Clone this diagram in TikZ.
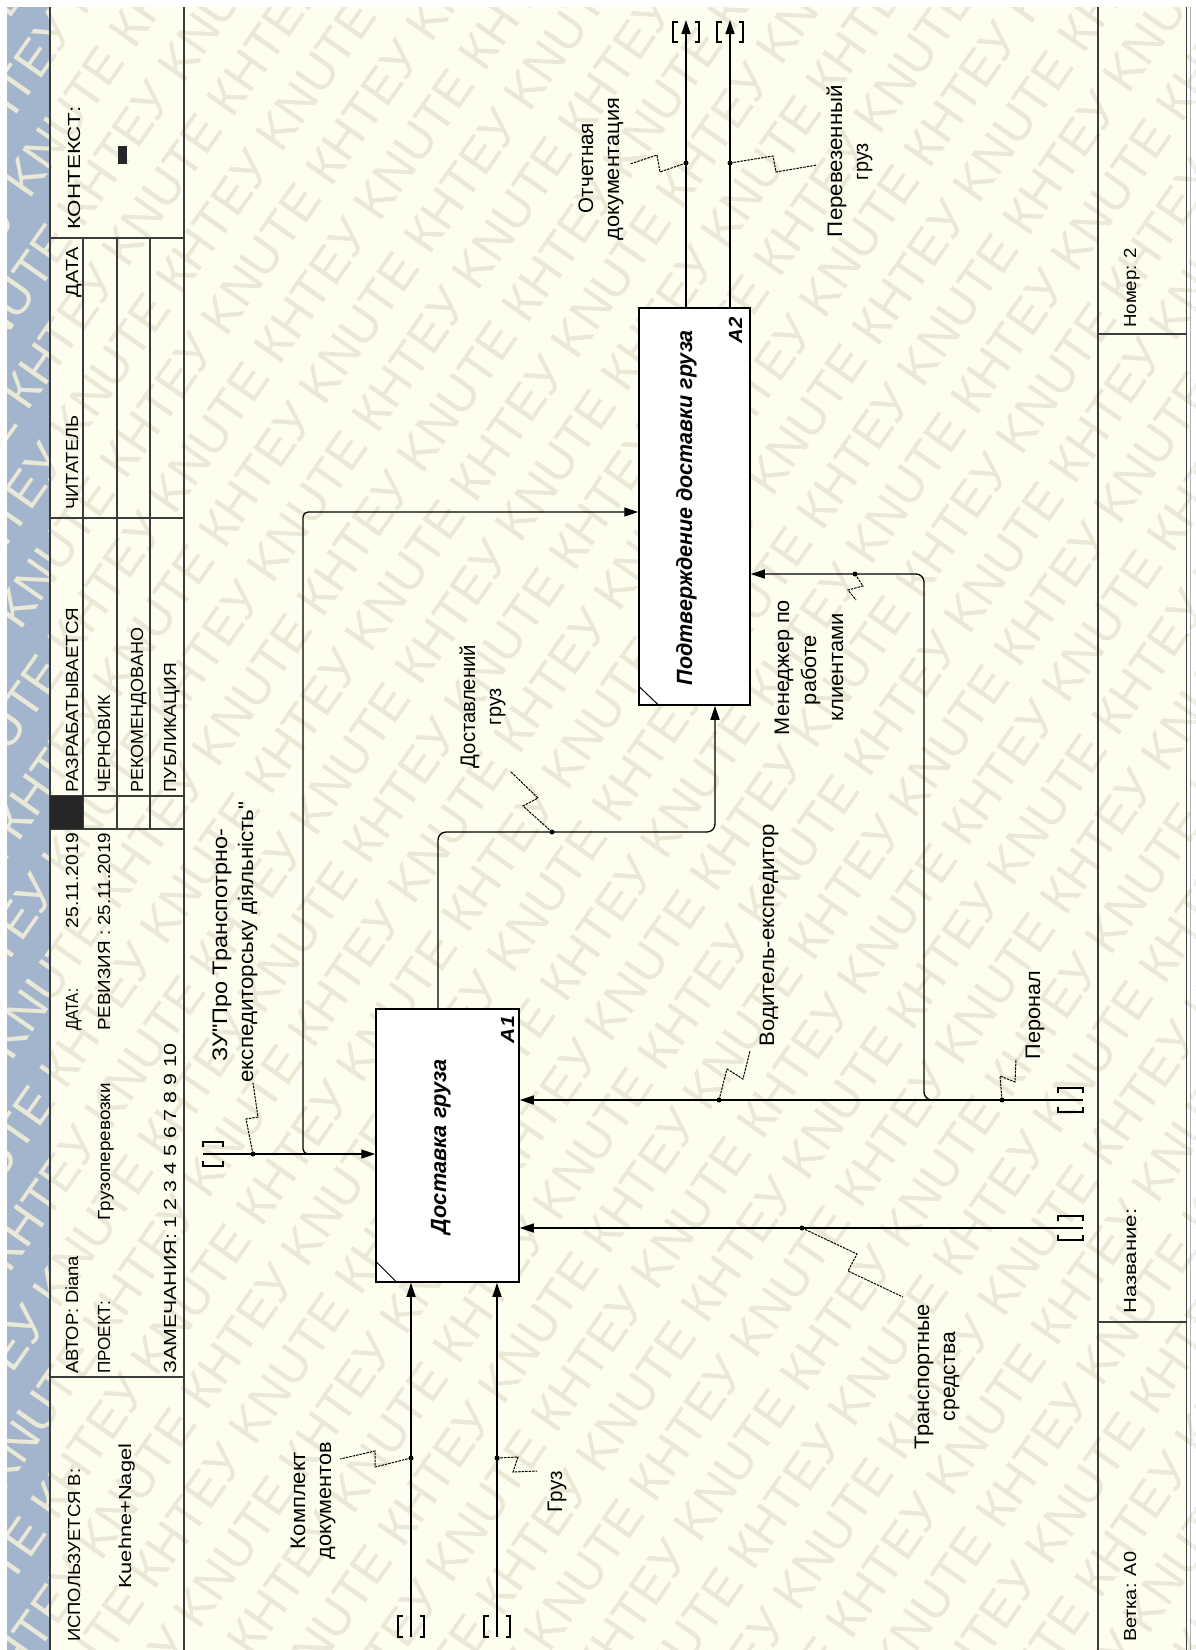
\documentclass[tikz,border=0pt]{standalone}
\usepackage{fontspec}
\setmainfont{Liberation Sans}[Ligatures=TeXOff]
\usetikzlibrary{arrows.meta}
\definecolor{cream}{RGB}{254,254,238}
\definecolor{strip}{RGB}{163,181,204}
\definecolor{frame}{RGB}{60,60,60}
\definecolor{wmc}{RGB}{234,232,214}
\newcommand\fw[2]{\resizebox{#1pt}{\height}{#2}}
\newcommand\vtun[3]{%
  \draw[tun] (#1-8.5,#2) -- (#1-13,#2) -- (#1-13,#3) -- (#1-8.5,#3);
  \draw[tun] (#1+8.5,#2) -- (#1+13,#2) -- (#1+13,#3) -- (#1+8.5,#3);}
\newcommand\htun[3]{%
  \draw[tun] (#2,#1-7) -- (#2,#1-12) -- (#3,#1-12) -- (#3,#1-7);
  \draw[tun] (#2,#1+7) -- (#2,#1+12) -- (#3,#1+12) -- (#3,#1+7);}
\newcommand\wmrow{KNUTE КНТЕУ KNUTE КНТЕУ KNUTE КНТЕУ KNUTE КНТЕУ KNUTE КНТЕУ KNUTE КНТЕУ KNUTE КНТЕУ}
\begin{document}
\begin{tikzpicture}[x=1pt,y=-1pt,
  tbl/.style={line width=1.2pt, draw=frame},
  arr/.style={line width=1.3pt, -{Triangle[length=14pt,width=9pt]}},
  tun/.style={line width=1.2pt},
  sq/.style={line width=1pt, dash pattern=on 2.5pt off 1pt},
  dotn/.style={circle, fill=black, inner sep=0pt, minimum size=5pt},
  tb/.style={font=\fontsize{17.5}{20}\selectfont, rotate=90, inner sep=0pt, anchor=base west},
  lb/.style={font=\fontsize{21}{25}\selectfont, rotate=90, inner sep=0pt, anchor=base},
  ttl/.style={font=\fontsize{22}{26}\selectfont\bfseries\itshape, rotate=90, inner sep=0pt, anchor=base},
  aid/.style={font=\fontsize{19}{22}\selectfont\bfseries\itshape, rotate=90, inner sep=0pt, anchor=base},
  box/.style={draw=black, line width=1.5pt, fill=white, inner sep=0pt},
  wm/.style={font=\fontsize{50}{52}\selectfont, text=wmc, rotate=55, inner sep=0pt},
]
\useasboundingbox (0,0) rectangle (1195,1650);
% background
\fill[white] (0,0) rectangle (1195,1650);
\fill[cream] (7,7) rectangle (1186,1650);
\fill[strip] (7,7) rectangle (50,1650);
% watermark
\begin{scope}
\clip (7,7) rectangle (1195,1650);
\begin{scope}[shift={(597,825)}, rotate=55]
\foreach \r in {-19,...,19} {
  \pgfmathsetmacro\off{mod(abs(\r),2)*182}
  \node[wm] (wm\r) at (\off, \r*60) {\wmrow};
}
\end{scope}
\end{scope}
\fill[white, opacity=0.55] (1192,7) rectangle (1195,1650);
\draw[line width=1pt, draw=frame] (1186,7) -- (1186,1650);
\draw[line width=1pt, draw=black!30] (1190,7) -- (1190,1650);

% ---------- title block (left strip) ----------
\draw[tbl] (50,7) -- (50,1650);
\draw[tbl] (184,7) -- (184,1650);
\draw[tbl] (50,238) -- (184,238);
\draw[tbl] (50,518) -- (184,518);
\draw[tbl] (50,796) -- (184,796);
\draw[tbl] (50,829) -- (184,829);
\draw[tbl] (50,1377) -- (184,1377);
\foreach \c in {83,117,150} \draw[tbl] (\c,238) -- (\c,829);
\fill[black!85] (50,796) rectangle (83,829);

\node[tb] (tKon) at (80,230) {\fw{123}{КОНТЕКСТ:}};
\fill[black!85] (118,146) rectangle (127,164);
\node[tb, anchor=base east] (tDh) at (78,247) {\fw{50}{ДАТА}};
\node[tb] (tRead) at (78,510) {\fw{94}{ЧИТАТЕЛЬ}};
\node[tb] (tS1) at (78,793) {\fw{185}{РАЗРАБАТЫВАЕТСЯ}};
\node[tb] (tS2) at (110,793) {\fw{98}{ЧЕРНОВИК}};
\node[tb] (tS3) at (143,793) {\fw{165}{РЕКОМЕНДОВАНО}};
\node[tb] (tS4) at (176,793) {\fw{130}{ПУБЛИКАЦИЯ}};
\node[tb] (tD1) at (78,1031) {\fw{42}{ДАТА:}};
\node[tb, anchor=base east] (tD2) at (78,833) {\fw{95}{25.11.2019}};
\node[tb] (tRev) at (110,1031) {\fw{198}{РЕВИЗИЯ : 25.11.2019}};
\node[tb] (tAut) at (78,1374) {\fw{118}{АВТОР: Diana}};
\node[tb] (tPr) at (110,1374) {\fw{73}{ПРОЕКТ:}};
\node[tb, anchor=base east] (tPr2) at (110,1083) {\fw{137}{Грузоперевозки}};
\node[tb] (tNote) at (176,1374) {\fw{330}{ЗАМЕЧАНИЯ: 1 2 3 4 5 6 7 8 9 10}};
\node[tb] (tUsed) at (80,1642) {\fw{173}{ИСПОЛЬЗУЕТСЯ В:}};
\node[tb] (tKN) at (131,1589) {\fw{145}{Kuehne+Nagel}};

% ---------- bottom block (right strip) ----------
\draw[tbl] (1098,7) -- (1098,1650);
\draw[tbl] (1098,334) -- (1186,334);
\draw[tbl] (1098,1322) -- (1186,1322);
\node[tb] (tNum) at (1136,328) {\fw{80}{Номер: 2}};
\node[tb] (tName) at (1136,1314) {\fw{105}{Название:}};
\node[tb] (tBr) at (1136,1642) {\fw{90}{Ветка:  A0}};

% ---------- activity boxes ----------
\node[box, minimum width=143pt, minimum height=273pt] (A1) at (447.5,1145.5) {};
\node[box, minimum width=111pt, minimum height=397pt] (A2) at (694.5,506.5) {};
\draw[line width=1pt] ([yshift=22pt]A1.south west) -- ([xshift=22pt]A1.south west);
\draw[line width=1pt] ([yshift=20pt]A2.south west) -- ([xshift=21pt]A2.south west);
\node[ttl] (A1t) at (446,1146.5) {\fw{175}{Доставка груза}};
\node[ttl] (A2t) at (692,507.5) {\fw{355}{Подтверждение доставки груза}};
\node[aid] (A1n) at (514,1029.5) {\fw{27}{A1}};
\node[aid] (A2n) at (742,330) {\fw{26}{A2}};

% ---------- connectors ----------
% outputs of A2
\coordinate (o1) at (686,20);
\coordinate (o2) at (730,20);
\draw[arr] (A2.north -| o1) -- (o1);
\draw[arr] (A2.north -| o2) -- (o2);
\vtun{686}{22}{42}
\vtun{730}{22}{42}
% A1 -> A2
\coordinate (d1) at (438,832);
\coordinate (d2) at (715,832);
\draw[arr, rounded corners=8pt] (A1.north -| d1) -- (d1) -- (d2) -- (A2.south -| d2);
% control
\coordinate (zu) at (203,1154);
\draw[arr] (zu) -- (A1.west |- zu);
\htun{1154}{203}{223}
\coordinate (zbj) at (310,1154);
\coordinate (zb) at (303,512);
\draw[arr, rounded corners=5pt] (zbj) -- (zb |- zbj) -- (zb) -- (A2.west |- zb);
% mechanisms
\coordinate (m1) at (1083,1100);
\draw[arr] (m1) -- (A1.east |- m1);
\htun{1100}{1058}{1083}
\coordinate (mbj) at (937,1100);
\coordinate (mb) at (924,574);
\draw[arr, rounded corners=8pt] (mbj) -- (mb |- mbj) -- (mb) -- (A2.east |- mb);
\coordinate (m2) at (1083,1228);
\draw[arr] (m2) -- (A1.east |- m2);
\htun{1228}{1058}{1083}
% inputs
\coordinate (i1) at (411,1637);
\coordinate (i2) at (497,1637);
\draw[arr] (i1) -- (A1.south -| i1);
\draw[arr] (i2) -- (A1.south -| i2);
\vtun{411}{1616}{1637}
\vtun{497}{1616}{1637}

% ---------- squiggles and dots ----------
\node[dotn] (dO) at (686,163) {};
\draw[sq] (dO.center) -- (660,172) -- (657,155) -- (630,164);
\node[dotn] (dP) at (730,163) {};
\draw[sq] (dP.center) -- (773,156) -- (776,172) -- (817,165);
\node[dotn] (dD) at (552,832) {};
\draw[sq] (dD.center) -- (523,806) -- (538,798) -- (510,771);
\node[dotn] (dZ) at (253,1154) {};
\draw[sq] (dZ.center) -- (246,1119) -- (258,1117) -- (253,1083);
\node[dotn] (dV) at (719,1100) {};
\draw[sq] (dV.center) -- (727,1069) -- (743,1079) -- (750,1051);
\node[dotn] (dPe) at (1002,1100) {};
\draw[sq] (dPe.center) -- (1000,1076) -- (1015,1082) -- (1016,1059);
\node[dotn] (dM) at (855,574) {};
\draw[sq] (dM.center) -- (863,586) -- (848,590) -- (856,600);
\node[dotn] (dT) at (802,1228) {};
\draw[sq] (dT.center) -- (857,1254) -- (848,1271) -- (903,1297);
\node[dotn] (dK) at (411,1458) {};
\draw[sq] (dK.center) -- (375,1467) -- (375,1451) -- (340,1459);
\node[dotn] (dG) at (497,1458) {};
\draw[sq] (dG.center) -- (518,1457) -- (513,1472) -- (537,1471);

% ---------- arrow labels ----------
\node[lb] (lO1) at (593,168) {\fw{90}{Отчетная}};
\node[lb] (lO2) at (619,169) {\fw{142}{документация}};
\node[lb] (lP1) at (842,161) {\fw{152}{Перевезенный}};
\node[lb] (lP2) at (868,161.5) {\fw{37}{груз}};
\node[lb] (lD1) at (475,706.5) {\fw{123}{Доставлений}};
\node[lb] (lD2) at (501,706.5) {\fw{37}{груз}};
\node[lb] (lM1) at (789,667.5) {\fw{135}{Менеджер по}};
\node[lb] (lM2) at (816,670) {\fw{70}{работе}};
\node[lb] (lM3) at (843,667) {\fw{108}{клиентами}};
\node[lb] (lV) at (774,935) {\fw{222}{Водитель-експедитор}};
\node[lb] (lPe) at (1040,1015) {\fw{88}{Перонал}};
\node[lb] (lT1) at (929,1376.5) {\fw{145}{Транспортные}};
\node[lb] (lT2) at (955,1376.5) {\fw{89}{средства}};
\node[lb] (lK1) at (305,1500.5) {\fw{97}{Комплект}};
\node[lb] (lK2) at (331,1500.5) {\fw{117}{документов}};
\node[lb] (lG) at (562,1491.5) {\fw{41}{Груз}};
\node[lb] (lZ1) at (227,945) {\fw{233}{ЗУ"Про Транспотрно-}};
\node[lb] (lZ2) at (253,942) {\fw{281}{експедиторську діяльність"}};
\end{tikzpicture}
\end{document}
